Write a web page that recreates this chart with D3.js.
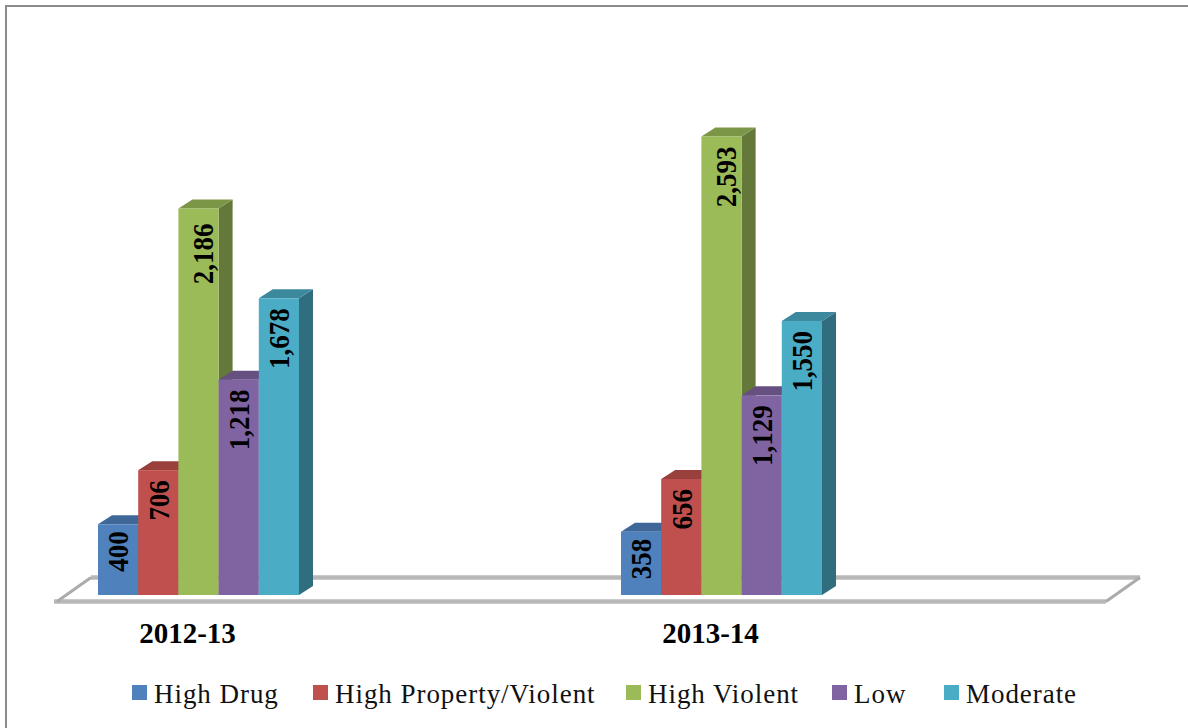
<!DOCTYPE html>
<html><head><meta charset="utf-8">
<script src="https://cdnjs.cloudflare.com/ajax/libs/d3/7.8.5/d3.min.js"></script>
<style>html,body{margin:0;padding:0;background:#fff}svg{display:block}</style>
</head><body><svg id="c" width="1188" height="728"></svg>
<script>
const years = ["2012-13", "2013-14"];
const seriesNames = ["High Drug", "High Property/Violent", "High Violent", "Low", "Moderate"];
const highDrug = [400, 358];
const highPropertyViolent = [706, 656];
const highViolent = [2186, 2593];
const low = [1218, 1129];
const moderate = [1678, 1550];
const seriesValues = [highDrug, highPropertyViolent, highViolent, low, moderate];
const frontColors = ["#4f81bd", "#c0504d", "#9bbb59", "#8064a2", "#4bacc6"];
const topColors = ["#3f6797", "#99403d", "#7c9647", "#665082", "#3c899e"];
const sideColors = ["#335379", "#7b3331", "#647839", "#524068", "#306e7f"];

const svg = d3.select("#c");
const FONT = "'Liberation Serif','Times New Roman',serif";
const dx = 14, dy = -9;
const labelShift = [9.5, 10.5, 14, 10.5, 10.5];

svg.append("rect").attr("x",6).attr("y",6).attr("width",1190).attr("height",730)
  .attr("fill","#fff").attr("stroke","#8c8c8c").attr("stroke-width",2);

const y = d3.scaleLinear().domain([0,2593]).range([595,136.5]);
const x0 = d3.scalePoint().domain(years).range([198.5,721.5]);
const x1 = d3.scaleBand().domain(seriesNames).range([-100.5,100.5]);

// floor
const line = d3.line();
const fl = 57, fr = 1106, bl = 91, br = 1140, fy = 601.5, by = 577.5;
svg.append("path").attr("d", line([[fl,fy],[bl,by],[br,by],[fr,fy]])+"Z").attr("fill","#fff").attr("stroke","none");
svg.append("path").attr("d", line([[fl-3,fy],[fr,fy]])).attr("stroke","#b8b8b8").attr("stroke-width",4.5).attr("fill","none");
svg.append("path").attr("d", line([[bl,by],[br,by]])).attr("stroke","#b8b8b8").attr("stroke-width",4.5).attr("fill","none");
svg.append("path").attr("d", line([[fl,fy],[bl,by]])).attr("stroke","#ababab").attr("stroke-width",3).attr("fill","none");
svg.append("path").attr("d", line([[fr,fy],[br,by]])).attr("stroke","#ababab").attr("stroke-width",3).attr("fill","none");

const flat = [];
years.forEach((yr,i)=>seriesNames.forEach((s,j)=>flat.push({yr,s,j,v:seriesValues[j][i]})));
const bars = svg.append("g").selectAll("g").data(flat).join("g");
const w = x1.bandwidth();
bars.append("path").attr("fill",d=>sideColors[d.j]).attr("d",d=>{
  const xr = x0(d.yr)+x1(d.s)+w, t=y(d.v), b=y(0);
  return line([[xr,t],[xr+dx,t+dy],[xr+dx,b+dy],[xr,b]])+"Z";
});
bars.append("path").attr("fill",d=>topColors[d.j]).attr("d",d=>{
  const xl = x0(d.yr)+x1(d.s), t=y(d.v);
  return line([[xl,t],[xl+dx,t+dy],[xl+w+dx,t+dy],[xl+w,t]])+"Z";
});
bars.append("rect").attr("fill",d=>frontColors[d.j])
  .attr("x",d=>x0(d.yr)+x1(d.s)).attr("y",d=>y(d.v)).attr("width",w).attr("height",d=>y(0)-y(d.v));
svg.append("g").selectAll("text").data(flat).join("text")
  .attr("transform",d=>`translate(${x0(d.yr)+x1(d.s)+w/2+labelShift[d.j]},${y(d.v)+(d.v===2186?15:d.v<500?7:10)}) rotate(-90) scale(0.93,1)`)
  .attr("text-anchor","end")
  .attr("font-family",FONT).attr("font-weight","bold").attr("font-size",29).attr("fill","#000")
  .text(d=>d3.format(",")(d.v));

// category labels
svg.append("g").selectAll("text").data(years).join("text")
  .attr("x",d=>x0(d)-11).attr("y",643).attr("text-anchor","middle")
  .attr("font-family",FONT).attr("font-weight","bold").attr("font-size",29).text(d=>d);

// legend
const legendX = [132,313,626,832,944];
const lg = svg.append("g").selectAll("g").data(seriesNames).join("g")
  .attr("transform",(d,i)=>`translate(${legendX[i]},685)`);
lg.append("rect").attr("width",15).attr("height",15).attr("fill",(d,i)=>frontColors[i]);
lg.append("text").attr("x",22).attr("y",18).attr("font-family",FONT).attr("font-size",27)
  .attr("letter-spacing",0.95).attr("fill","#111").text(d=>d);
</script></body></html>
